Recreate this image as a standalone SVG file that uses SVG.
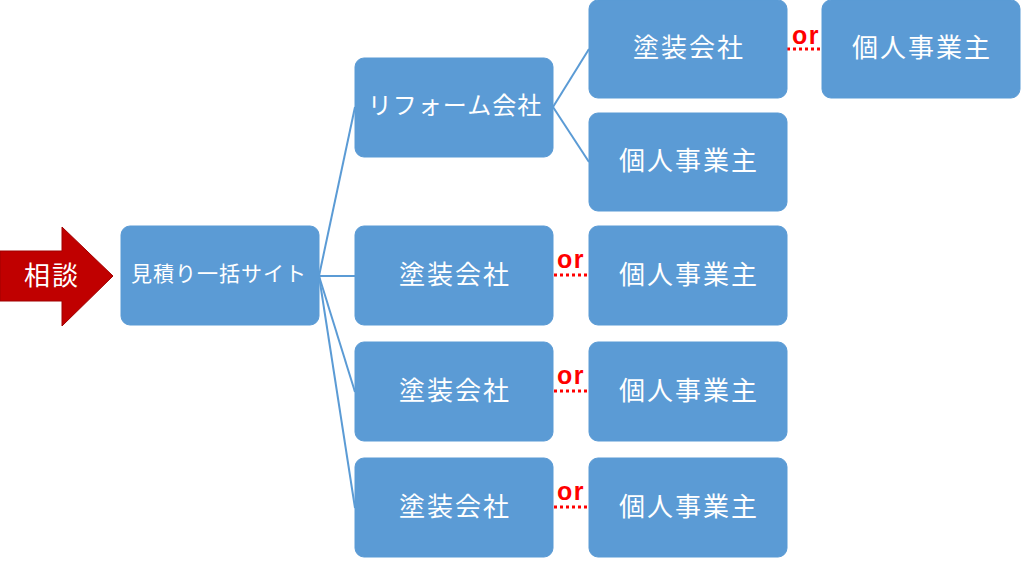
<svg xmlns="http://www.w3.org/2000/svg" width="1024" height="567" viewBox="0 0 1024 567">
<style>
.box{fill:#5B9BD5;stroke:#5B9BD5;stroke-width:1}
.t{fill:#fff;font-family:"Noto Sans CJK JP","Noto Sans CJK SC",sans-serif;text-anchor:middle;dominant-baseline:central}
.big{font-size:26px;letter-spacing:2px}
.mid{font-size:24px;letter-spacing:1px}
.sm{font-size:21px;letter-spacing:1px}
.line{stroke:#5B9BD5;stroke-width:2;fill:none}
.dot{stroke:#FF0000;stroke-width:3;stroke-dasharray:3 3;fill:none}
.or{fill:#FF0000;font-family:"Liberation Sans",Arial,sans-serif;font-size:25px;font-weight:bold;letter-spacing:1.5px;text-anchor:middle}
</style>
<rect width="1024" height="567" fill="#fff"/>
<g id="connectors">
<line class="line" x1="319" y1="276" x2="355" y2="107"/>
<line class="line" x1="319" y1="276" x2="355" y2="276"/>
<line class="line" x1="319" y1="276" x2="355" y2="392"/>
<line class="line" x1="319" y1="276" x2="355" y2="508"/>
<line class="line" x1="553" y1="107" x2="589" y2="49"/>
<line class="line" x1="553" y1="107" x2="589" y2="162"/>
<line class="dot" x1="787" y1="49" x2="822" y2="49"/>
<text class="or" x="806" y="44">or</text>
<line class="dot" x1="554" y1="275" x2="589" y2="275"/>
<text class="or" x="571" y="268">or</text>
<line class="dot" x1="554" y1="391" x2="589" y2="391"/>
<text class="or" x="571" y="384">or</text>
<line class="dot" x1="554" y1="507" x2="589" y2="507"/>
<text class="or" x="571" y="500">or</text>
</g>
<g id="arrow">
<polygon points="0,251 62,251 62,227 113,276 62,326 62,301 0,301" fill="#C00000" stroke="#A00000" stroke-width="1"/>
<text class="t big" x="52" y="273">相談</text>
</g>
<g id="site"><rect class="box" x="121" y="226" width="198" height="99" rx="9"/><text class="t sm" x="219" y="272">見積り一括サイト</text></g>
<g id="reform"><rect class="box" x="355" y="58" width="198" height="99" rx="9"/><text class="t mid" x="455" y="103">リフォーム会社</text></g>
<g id="paint1"><rect class="box" x="355" y="226" width="198" height="99" rx="9"/><text class="t big" x="455" y="272">塗装会社</text></g>
<g id="paint2"><rect class="box" x="355" y="342" width="198" height="99" rx="9"/><text class="t big" x="455" y="388">塗装会社</text></g>
<g id="paint3"><rect class="box" x="355" y="458" width="198" height="99" rx="9"/><text class="t big" x="455" y="504">塗装会社</text></g>
<g id="paint0"><rect class="box" x="589" y="0" width="198" height="98" rx="9"/><text class="t big" x="689" y="45">塗装会社</text></g>
<g id="indiv0"><rect class="box" x="589" y="113" width="198" height="98" rx="9"/><text class="t big" x="689" y="158">個人事業主</text></g>
<g id="indiv1"><rect class="box" x="589" y="226" width="198" height="99" rx="9"/><text class="t big" x="689" y="272">個人事業主</text></g>
<g id="indiv2"><rect class="box" x="589" y="342" width="198" height="99" rx="9"/><text class="t big" x="689" y="388">個人事業主</text></g>
<g id="indiv3"><rect class="box" x="589" y="458" width="198" height="99" rx="9"/><text class="t big" x="689" y="504">個人事業主</text></g>
<g id="indivTop"><rect class="box" x="822" y="0" width="198" height="98" rx="9"/><text class="t big" x="922" y="45">個人事業主</text></g>
</svg>
